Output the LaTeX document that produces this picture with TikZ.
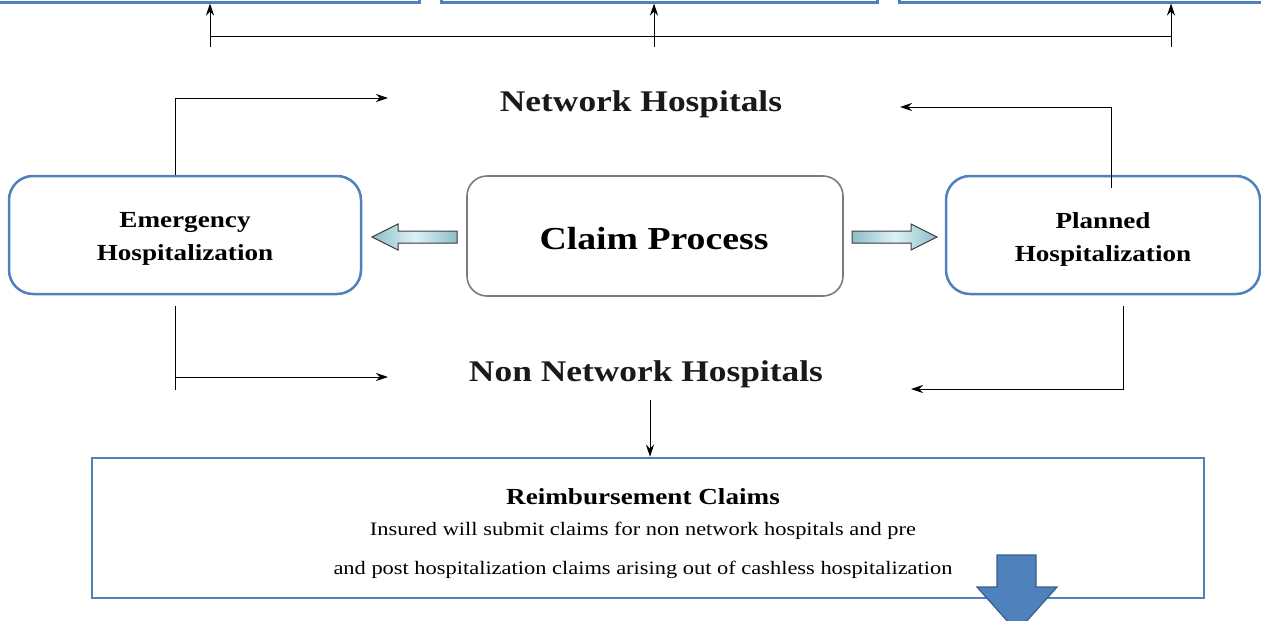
\documentclass[tikz,border=0pt]{standalone}
\usepackage{fontspec}
\setmainfont[FakeStretch=1.18]{Liberation Serif}
\usetikzlibrary{arrows.meta}
\definecolor{boxblue}{RGB}{79,129,189}
\definecolor{cpgray}{RGB}{118,124,134}
\definecolor{arrlight}{RGB}{222,242,246}
\definecolor{arrdark}{RGB}{140,190,200}
\definecolor{bigblue}{RGB}{79,129,189}
\definecolor{bigborder}{RGB}{56,93,138}
\begin{document}
\begin{tikzpicture}[x=1pt,y=-1pt,
  topbox/.style={draw=boxblue,line width=3pt,minimum height=24pt,inner sep=0pt},
  rbox/.style={draw=boxblue,line width=2.5pt,rounded corners=24pt,fill=white,minimum height=118pt,inner sep=0pt},
  cbox/.style={draw=cpgray,line width=1.6pt,rounded corners=20pt,fill=white,minimum height=120pt,minimum width=376pt,inner sep=0pt},
  conn/.style={draw=black,line width=1pt,-{Stealth[length=12pt,width=8pt]}},
  plain/.style={draw=black,line width=1pt},
  boxtext/.style={font=\fontsize{23}{33}\selectfont\bfseries,align=center},
  hosp/.style={font=\fontsize{30}{32}\selectfont\bfseries,inner sep=0pt,text=black!90},
  blockarrow/.style={draw=black!75,line width=1pt,left color=arrdark,right color=arrdark,middle color=arrlight}
]
\useasboundingbox (0,0) rectangle (1261,621);
\clip (0,0) rectangle (1261,621);

% top boxes (cut off)
\node[topbox,minimum width=424pt] (t1) at (207,-10) {};
\node[topbox,minimum width=436pt] (t2) at (659,-10) {};
\node[topbox,minimum width=370pt] (t3) at (1084,-10) {};

% top connector tree
\coordinate (a1) at (210,47);
\coordinate (a2) at (654,47);
\coordinate (a3) at (1171,47);
\draw[conn] (a1) -- (a1 |- t1.south);
\draw[conn] (a2) -- (a2 |- t2.south);
\draw[conn] (a3) -- (a3 |- t3.south);
\draw[plain] (210,36) coordinate (h1) -- (1171,36) coordinate (h2);

% main boxes
\node[rbox,minimum width=352pt] (em) at (185,235) {};
\node[boxtext] (emt) at (185,239) {Emergency\\Hospitalization};
\node[cbox] (cp) at (655,236) {};
\node[font=\fontsize{32}{36}\selectfont\bfseries] (cpt) at (654,239) {Claim Process};
\node[rbox,minimum width=314pt] (pl) at (1103,235) {};
\node[boxtext] (plt) at (1103,239) {Planned\\Hospitalization};

% block arrows
\filldraw[blockarrow] (372,237) -- (398,224) -- (398,231) -- (457,231) -- (457,243) -- (398,243) -- (398,250) -- cycle;
\filldraw[blockarrow] (937,237) -- (911,224) -- (911,231) -- (852,231) -- (852,243) -- (911,243) -- (911,250) -- cycle;

% hospital labels
\node[hosp] (nh) at (641,104) {Network Hospitals};
\node[hosp] (nnh) at (646,374) {Non Network Hospitals};

% emergency connectors
\coordinate (nhL) at (388,98);
\coordinate (nnhL) at (388,377);
\draw[conn] (em.north -| 175,0) |- (nhL);
\coordinate (eb) at (175,306);
\draw[plain] (eb) -- (175,390);
\draw[conn] (175,377) -- (nnhL);

% planned connectors
\coordinate (nhR) at (900,107);
\coordinate (nnhR) at (911,389);
\draw[conn] (1111,188) |- (nhR);
\draw[conn] (1123,306) |- (nnhR);

% reimbursement box
\node[draw=boxblue,line width=2.5pt,minimum width=1112pt,minimum height=140pt,inner sep=0pt] (rb) at (648,528) {};
\coordinate (nd) at (650,400);
\draw[conn] (nd) -- (nd |- rb.north);
\node[font=\fontsize{23}{24}\selectfont\bfseries] (rt) at (643,497) {Reimbursement Claims};
\node[font=\fontsize{19}{20}\selectfont] (r1) at (643,531) {Insured will submit claims for non network hospitals and pre};
\node[font=\fontsize{19}{20}\selectfont] (r2) at (643,570) {and post hospitalization claims arising out of cashless hospitalization};

% big down arrow
\filldraw[fill=bigblue,draw=bigborder,line width=1.2pt] (997,555) -- (1036,555) -- (1036,587) -- (1057,587) -- (1017,632) -- (977,587) -- (997,587) -- cycle;
\end{tikzpicture}
\end{document}
